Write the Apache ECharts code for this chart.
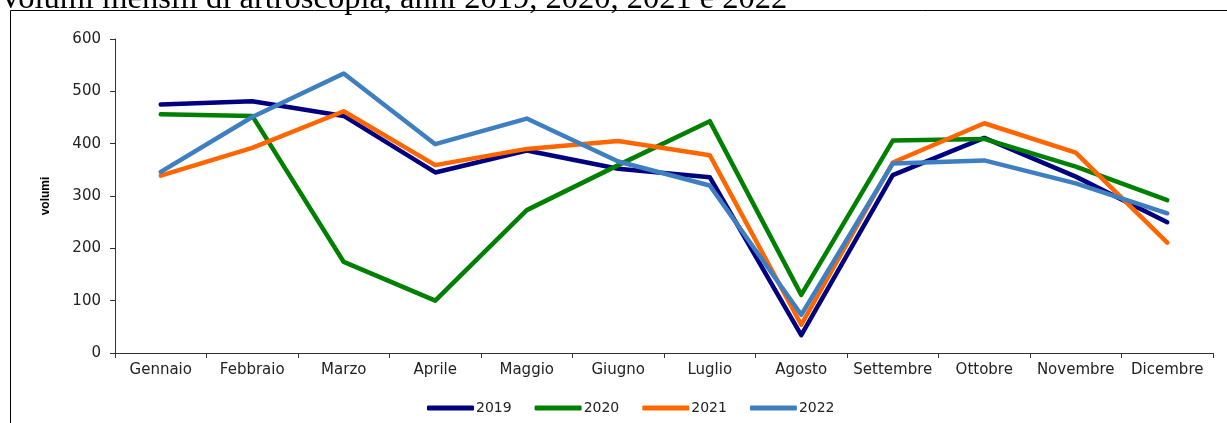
<!DOCTYPE html>
<html>
<head>
<meta charset="utf-8">
<style>
  html, body { margin: 0; padding: 0; background: #fff; }
  #chart { width: 1227px; height: 423px; }
</style>
<script src="https://cdn.jsdelivr.net/npm/echarts@6/dist/echarts.min.js"></script>
</head>
<body>
<div id="chart"></div>
<script>
// Monthly arthroscopy volumes
const months = ['Gennaio', 'Febbraio', 'Marzo', 'Aprile', 'Maggio', 'Giugno',
                'Luglio', 'Agosto', 'Settembre', 'Ottobre', 'Novembre', 'Dicembre'];
const years = ['2019', '2020', '2021', '2022'];
const v2019 = [475, 481, 453, 345, 387, 352, 336, 34, 340, 411, 337, 250];
const v2020 = [456, 453, 174, 100, 273, 359, 443, 111, 406, 409, 356, 292];
const v2021 = [339, 392, 462, 359, 390, 405, 378, 54, 364, 439, 383, 211];
const v2022 = [346, 451, 534, 399, 448, 366, 320, 73, 362, 368, 324, 267];
const yTicks = [0, 100, 200, 300, 400, 500, 600];
const titleText = 'Volumi mensili di artroscopia, anni 2019, 2020, 2021 e 2022';

const colors = ['#000080', '#008000', '#ff6600', '#3d7fc1'];
const values = [v2019, v2020, v2021, v2022];
const sans = '"DejaVu Sans", Verdana, sans-serif';

const chart = echarts.init(document.getElementById('chart'), null, { renderer: 'canvas' });

chart.setOption({
  animation: false,
  backgroundColor: '#ffffff',
  graphic: [
    {
      type: 'text',
      left: -1,
      top: -17,
      style: {
        text: titleText,
        font: '32.5px "Liberation Serif", "Times New Roman", serif',
        fill: '#000'
      }
    },
    {
      type: 'polyline',
      shape: { points: [[10.5, 423], [10.5, 10.5], [1227, 10.5]] },
      style: { stroke: '#000', lineWidth: 1, fill: null }
    }
  ],
  grid: { left: 115, right: 14, top: 39, bottom: 70, containLabel: false },
  legend: {
    bottom: 3,
    left: 422,
    icon: 'roundRect',
    itemWidth: 47,
    itemHeight: 5,
    itemGap: 23,
    textStyle: { fontFamily: sans, fontSize: 14, color: '#222', padding: [0, 0, 0, -3] },
    data: years
  },
  xAxis: {
    type: 'category',
    data: months,
    boundaryGap: true,
    axisLine: { lineStyle: { color: '#333', width: 1 } },
    axisTick: { show: true, alignWithLabel: false, length: 5, lineStyle: { color: '#333' } },
    axisLabel: { interval: 0, fontFamily: sans, fontSize: 15, color: '#222', margin: 10 },
    splitLine: { show: false }
  },
  yAxis: {
    type: 'value',
    min: yTicks[0],
    max: yTicks[yTicks.length - 1],
    interval: 100,
    name: 'volumi',
    nameLocation: 'middle',
    nameGap: 63,
    nameRotate: 90,
    nameTextStyle: { fontFamily: 'Liberation Sans, Arial, sans-serif', fontSize: 12, fontWeight: 'bold', color: '#000' },
    axisLine: { show: true, lineStyle: { color: '#333', width: 1 } },
    axisTick: { show: true, length: 5, lineStyle: { color: '#333' } },
    axisLabel: { fontFamily: sans, fontSize: 15, color: '#222', margin: 14 },
    splitLine: { show: false }
  },
  series: years.map((y, i) => ({
    name: y,
    type: 'line',
    data: values[i],
    symbol: 'none',
    color: colors[i],
    lineStyle: { color: colors[i], width: 4.5, cap: 'round', join: 'round' },
    itemStyle: { color: colors[i] }
  }))
});
</script>
</body>
</html>
